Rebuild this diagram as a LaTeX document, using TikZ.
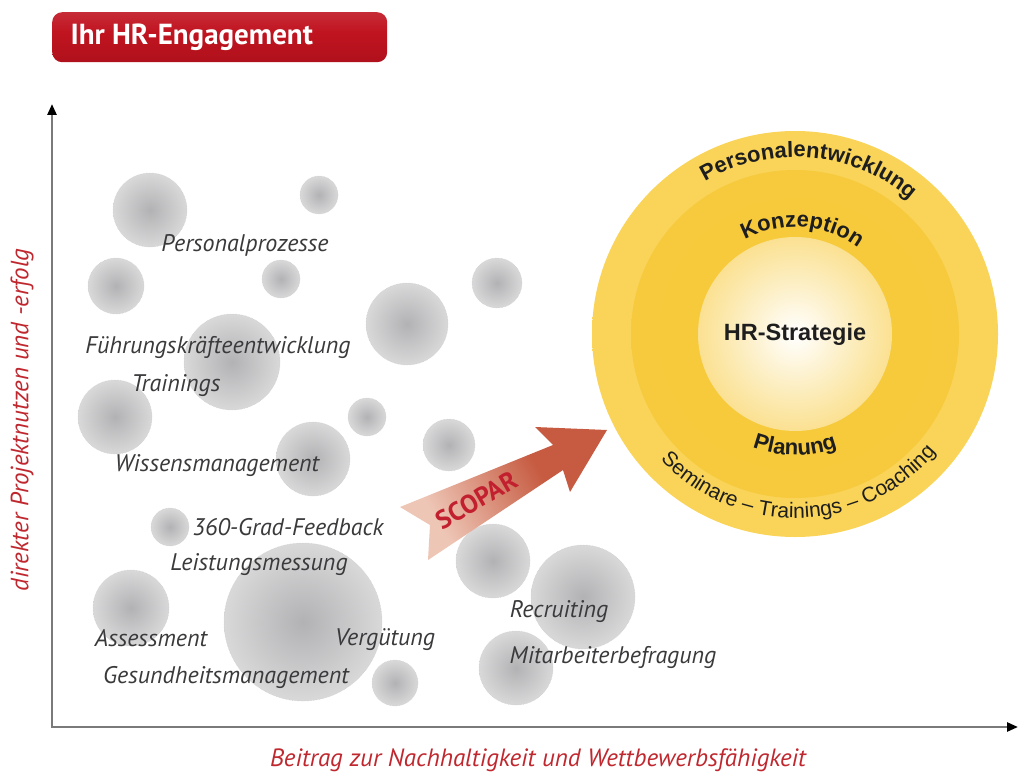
\documentclass[tikz,border=0pt]{standalone}
\usepackage{fontspec}
\setmainfont{PT Sans}
\newfontfamily\arialfont{Liberation Sans}
\usepackage{tikz}
\usetikzlibrary{arrows.meta}
\usetikzlibrary{decorations.text}

\definecolor{axisgray}{HTML}{7A7A7A}
\definecolor{axisred}{HTML}{C0282F}
\definecolor{labelgray}{HTML}{3A3A3C}
\definecolor{bubcore}{HTML}{B2B2B4}
\definecolor{bubedge}{HTML}{F8F8F8}
\definecolor{hdrlight}{HTML}{E48C92}
\definecolor{hdrred}{HTML}{C01420}
\definecolor{hdrdark}{HTML}{A20E18}
\definecolor{arrowlight}{HTML}{EEC6B6}
\definecolor{arrowdark}{HTML}{C65B41}
\definecolor{scopartext}{HTML}{C2202E}
\definecolor{ringrim}{HTML}{FDE8A8}
\definecolor{ringouter}{HTML}{F9D458}
\definecolor{ringmid}{HTML}{F7C93A}
\definecolor{ringcore}{HTML}{F5C22B}
\definecolor{ringtext}{HTML}{1E1E1E}

\pgfdeclareradialshading{bubblefill}{\pgfpoint{0bp}{0bp}}{color(0bp)=(bubcore); color(25bp)=(bubcore!50!white); color(50bp)=(bubedge)}
\pgfdeclareradialshading{outerring}{\pgfpoint{0bp}{0bp}}{color(0bp)=(ringouter); color(40bp)=(ringouter); color(48bp)=(ringrim!60!ringouter); color(50bp)=(ringrim)}
\pgfdeclareradialshading{middlering}{\pgfpoint{0bp}{0bp}}{color(0bp)=(ringmid); color(50bp)=(ringmid!80!ringouter)}
\pgfdeclareradialshading{innercore}{\pgfpoint{0bp}{0bp}}{color(0bp)=(white); color(20bp)=(ringmid!45!white); color(50bp)=(ringcore)}
\pgfdeclareverticalshading{headerfill}{100bp}{color(0bp)=(hdrdark); color(55bp)=(hdrred); color(85bp)=(hdrred!85!white); color(100bp)=(hdrlight)}
\pgfdeclarehorizontalshading{scoparfill}{100bp}{color(0bp)=(arrowlight); color(30bp)=(arrowlight); color(62bp)=(arrowdark); color(100bp)=(arrowdark)}

\newcommand{\ringbold}{\arialfont\bfseries\fontsize{22}{24}\selectfont}
\newcommand{\ringplain}{\arialfont\fontsize{21}{23}\selectfont}

\tikzset{
	bubble/.style = {circle, inner sep=0pt, shade, shading=bubblefill,
		draw=gray!40, densely dotted, line width=0.5pt},
	fieldlabel/.style = {font=\itshape\fontsize{24}{27}\selectfont, text=labelgray, inner sep=0pt},
	axislabel/.style = {font=\itshape\fontsize{25}{28}\selectfont, text=axisred, inner sep=0pt}
}

\begin{document}
\begin{tikzpicture}[x=1pt, y=1pt]
				\useasboundingbox[fill=white] (0,0) rectangle (1019,-773);

				% header bar
				\node[anchor=north west, rounded corners=10pt, minimum width=335pt, minimum height=50pt,
					shade, shading=headerfill] (hdr) at (52,-12) {};
				\node[anchor=west, text=white, font=\bfseries\fontsize{29}{32}\selectfont]
					(hdrtext) at ([xshift=15pt]hdr.west) {Ihr HR-Engagement};

				% bubbles
				\begin{scope}[every node/.style = {bubble}]
					\node[minimum size=74pt] (B1) at (150,-210) {};
					\node[minimum size=38pt] (B2) at (319,-195) {};
					\node[minimum size=56pt] (B3) at (116,-286) {};
					\node[minimum size=38pt] (B4) at (281,-279) {};
					\node[minimum size=96pt] (B5) at (232,-362) {};
					\node[minimum size=74pt] (B6) at (115,-417) {};
					\node[minimum size=82pt] (B7) at (407,-324) {};
					\node[minimum size=50pt] (B8) at (497,-283) {};
					\node[minimum size=38pt] (B9) at (367,-417) {};
					\node[minimum size=74pt] (B10) at (313,-459) {};
					\node[minimum size=52pt] (B11) at (449,-445) {};
					\node[minimum size=38pt] (B12) at (170,-527) {};
					\node[minimum size=76pt] (B13) at (131,-608) {};
					\node[minimum size=158pt] (B14) at (303,-622) {};
					\node[minimum size=46pt] (B15) at (395,-683) {};
					\node[minimum size=74pt] (B16) at (493,-561) {};
					\node[minimum size=104pt] (B17) at (583,-597) {};
					\node[minimum size=74pt] (B18) at (516,-668) {};
				\end{scope}

				% axes
				\coordinate (O) at (52,-727);
				\coordinate (ytop) at (52,-104);
				\coordinate (xend) at (1018,-727);
				\draw[axisgray, line width=2.5pt,
					{Triangle[length=11pt, width=9pt, color=black]}-{Triangle[length=11pt, width=9pt, color=black]}]
					(ytop) -- (O) -- (xend);
				\node[axislabel, rotate=90] (ylab) at (22,-420) {direkter Projektnutzen und -erfolg};
				\node[axislabel] (xlab) at (538,-760) {Beitrag zur Nachhaltigkeit und Wettbewerbsfähigkeit};

				% SCOPAR arrow
				\shade[shading=scoparfill, shading angle=30]
					(400,-507) -- (553,-445) -- (535,-427) -- (607,-430) -- (570,-492)
					-- (563,-470) -- (428,-560) -- (430,-525) -- cycle;
				\node[rotate=30, text=scopartext, font=\bfseries\fontsize{26}{29}\selectfont] (scopar) at (477,-500) {SCOPAR};

				% rings
				\coordinate (C) at (795,-334);
				\node[circle, minimum size=406pt, inner sep=0pt, shade, shading=outerring] (pe) at (C) {};
				\node[circle, minimum size=328pt, inner sep=0pt, shade, shading=middlering] (ko) at (C) {};
				\node[circle, minimum size=194pt, inner sep=0pt, shade, shading=innercore,
					text=ringtext, font=\arialfont\bfseries\fontsize{23.5}{26}\selectfont] (hr) at (C) {HR-Strategie};
				\path[decorate, decoration={text along path, text align=center, text color=ringtext,
						text={|\ringbold|Personalentwicklung}}]
					([shift={(145:177)}]C) arc[start angle=145, end angle=25, radius=177];
				\path[decorate, decoration={text along path, text align=center, text color=ringtext,
						text={|\ringbold|Konzeption}}]
					([shift={(140:107)}]C) arc[start angle=140, end angle=32, radius=107];
				\path[decorate, decoration={text along path, text align=center, text color=ringtext,
						text={|\ringbold|Planung}}]
					([shift={(235:121)}]C) arc[start angle=235, end angle=305, radius=121];
				\path[decorate, decoration={text along path, text align=center, text color=ringtext,
						text={|\ringplain|Seminare – Trainings – Coaching}}]
					([shift={(210:184)}]C) arc[start angle=210, end angle=333, radius=184];

				% labels
				\begin{scope}[every node/.style = {fieldlabel}]
					\node (L1) at (245,-245) {Personalprozesse};
					\node (L2) at (218,-347) {Führungskräfteentwicklung};
					\node (L3) at (176,-386) {Trainings};
					\node (L4) at (217,-466) {Wissensmanagement};
					\node (L5) at (288,-527) {360-Grad-Feedback};
					\node (L6) at (259,-565) {Leistungsmessung};
					\node (L7) at (151,-638) {Assessment};
					\node (L8) at (385,-640) {Vergütung};
					\node (L9) at (226,-677) {Gesundheitsmanagement};
					\node (L10) at (559,-612) {Recruiting};
					\node (L11) at (613,-657) {Mitarbeiterbefragung};
				\end{scope}
			\end{tikzpicture}
\end{document}
